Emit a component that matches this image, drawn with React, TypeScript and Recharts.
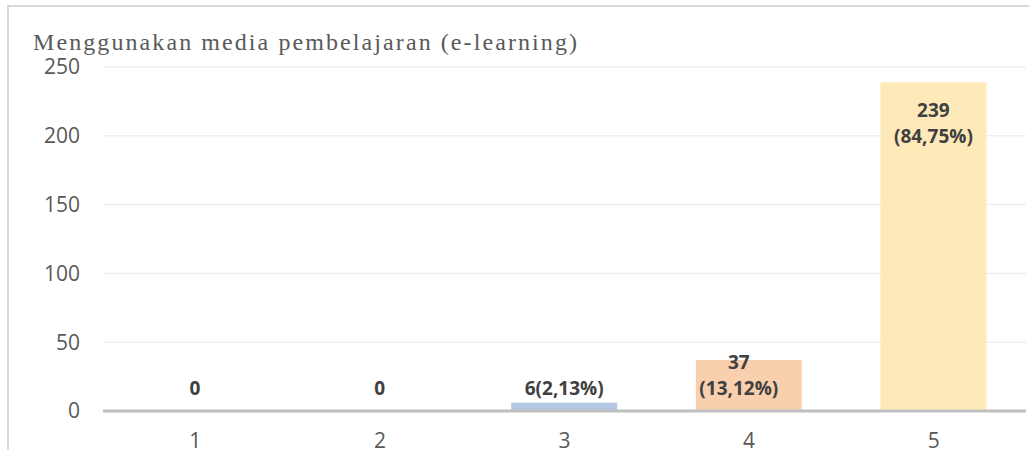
import React from "react";
import { BarChart, Bar, XAxis, YAxis, CartesianGrid, Cell, LabelList } from "recharts";

const categories = ["1", "2", "3", "4", "5"];
const counts = [0, 0, 6, 37, 239];
const labelLines: string[][] = [["0"], ["0"], ["6(2,13%)"], ["37", "(13,12%)"], ["239", "(84,75%)"]];
const barColors = ["#bfbfbf", "#bfbfbf", "#b4c8e4", "#f9d0ae", "#fee9b9"];
const yTicks = [0, 50, 100, 150, 200, 250];
const title = "Menggunakan media pembelajaran (e-learning)";

const data = categories.map((c, i) => ({ name: c, value: counts[i], idx: i }));

const FONT = "'Open Sans', sans-serif";

const renderLabel = (props: any) => {
  const { x, y, width, height, value } = props;
  const index = Number(value);
  const lines = labelLines[index] || [];
  const cx = x + width / 2 + (index === 3 ? -10 : 0);
  const zeroY = y + height;
  const lh = 26;
  let firstY: number;
  if (counts[index] > 100) {
    firstY = y + 28;
  } else {
    firstY = zeroY - 23 - (lines.length - 1) * lh;
  }
  return (
    <g>
      {lines.map((t, k) => (
        <text
          key={k}
          x={cx}
          y={firstY + k * lh}
          dy="0.36em"
          textAnchor="middle"
          fill="#404040"
          fontFamily={FONT}
          fontWeight={700}
          fontSize={19}
        >
          {t}
        </text>
      ))}
    </g>
  );
};

export default function App() {
  return (
    <div style={{ position: "absolute", left: 0, top: 0, width: 1029, height: 450, overflow: "hidden", background: "#fff" }}>
      <div
        style={{
          position: "absolute",
          left: 7,
          top: 5,
          width: 1040,
          height: 460,
          borderTop: "2px solid #d9d9d9",
          borderLeft: "2px solid #d9d9d9",
        }}
      />
      <svg style={{ position: "absolute", left: 0, top: 0 }} width={1029} height={60}>
        <text
          x={33}
          y={50}
          fill="#595959"
          fontFamily="'Liberation Serif', serif"
          fontSize={24}
          textLength={544}
          lengthAdjust="spacing"
        >
          {title}
        </text>
      </svg>
      <div style={{ position: "absolute", left: 0, top: 0 }}>
        <BarChart
          width={1029}
          height={450}
          data={data}
          margin={{ top: 67, right: 3, bottom: 0, left: 0 }}
          barSize={106}
        >
          <CartesianGrid vertical={false} stroke="#efefef" strokeWidth={1.5} />
          <XAxis
            dataKey="name"
            axisLine={{ stroke: "#bfbfbf", strokeWidth: 3 }}
            tickLine={false}
            height={39}
            tickMargin={16}
            tick={{ fill: "#595959", fontFamily: FONT, fontSize: 21 }}
          />
          <YAxis
            domain={[0, 250]}
            ticks={yTicks}
            width={103}
            axisLine={false}
            tickLine={false}
            tickMargin={17}
            tick={{ fill: "#595959", fontFamily: FONT, fontSize: 21 }}
          />
          <Bar dataKey="value" minPointSize={1} isAnimationActive={false}>
            {data.map((d, i) => (
              <Cell key={i} fill={barColors[i]} />
            ))}
            <LabelList dataKey="idx" content={renderLabel} />
          </Bar>
        </BarChart>
      </div>
    </div>
  );
}
